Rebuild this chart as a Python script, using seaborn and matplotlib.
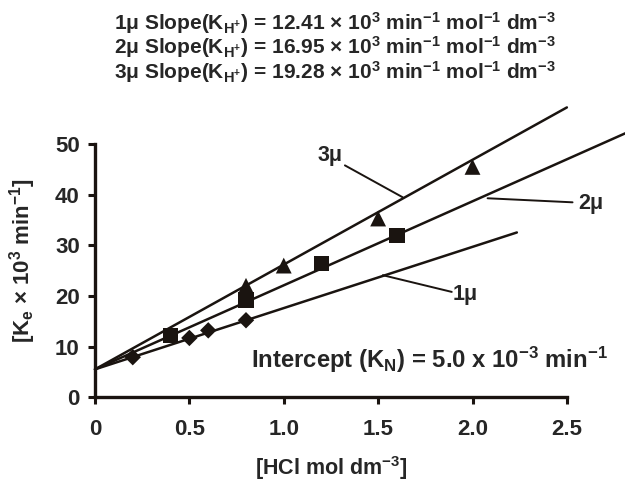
import matplotlib
matplotlib.use("Agg")
import matplotlib.pyplot as plt
import seaborn as sns
import numpy as np
import pandas as pd

# ---- data ----
x_1mu = [0.2, 0.5, 0.6, 0.8]
y_1mu = [7.9, 11.7, 13.2, 15.2]
x_2mu = [0.4, 0.8, 1.2, 1.6]
y_2mu = [12.2, 19.2, 26.4, 32.0]
x_3mu = [0.8, 1.0, 1.5, 2.0]
y_3mu = [22.0, 26.0, 35.3, 45.5]

series = ["1μ", "2μ", "3μ"]
fit_intercept = 5.5
fit_slopes = [12.1, 16.6, 20.7]
fit_xend = [2.235, 2.81, 2.5]

slope_texts = ["1μ Slope(K$_{H^{+}}$) = 12.41 × 10$^{3}$ min$^{-1}$ mol$^{-1}$ dm$^{-3}$",
               "2μ Slope(K$_{H^{+}}$) = 16.95 × 10$^{3}$ min$^{-1}$ mol$^{-1}$ dm$^{-3}$",
               "3μ Slope(K$_{H^{+}}$) = 19.28 × 10$^{3}$ min$^{-1}$ mol$^{-1}$ dm$^{-3}$"]

xticks = [0, 0.5, 1.0, 1.5, 2.0, 2.5]
xtick_labels = ["0", "0.5", "1.0", "1.5", "2.0", "2.5"]
yticks = [0, 10, 20, 30, 40, 50]

sns.set_style("ticks")
plt.rcParams["font.family"] = ["Liberation Sans", "DejaVu Sans"]
plt.rcParams["font.weight"] = "bold"
plt.rcParams["mathtext.default"] = "regular"

INK = "#1a1410"

fig = plt.figure(figsize=(6.25, 4.82), dpi=100)
ax = fig.add_axes([0.152, 0.176, 0.755, 0.525])

# fitted lines
for s, m, xe in zip(series, fit_slopes, fit_xend):
    xs = np.array([0.0, xe])
    df = pd.DataFrame({"x": xs, "y": fit_intercept + m * xs})
    sns.lineplot(data=df, x="x", y="y", ax=ax, color=INK, lw=1.8,
                 clip_on=False, zorder=2)

# points
sns.scatterplot(x=x_1mu, y=y_1mu, marker="D", s=70, color=INK,
                edgecolor="none", ax=ax, zorder=3, clip_on=False)
sns.scatterplot(x=x_2mu, y=y_2mu, marker="s", s=120, color=INK,
                edgecolor="none", ax=ax, zorder=3, clip_on=False)
sns.scatterplot(x=x_3mu, y=y_3mu, marker="^", s=130, color=INK,
                edgecolor="none", ax=ax, zorder=3, clip_on=False)

ax.set_xlim(0, 2.5)
ax.set_ylim(0, 50)
ax.set_xticks(xticks)
ax.set_xticklabels(xtick_labels)
ax.set_yticks(yticks)
ax.tick_params(axis="both", labelsize=16, width=2.2, length=5, color=INK,
               pad=11)
ax.tick_params(axis="y", pad=6)
for lbl in ax.get_xticklabels() + ax.get_yticklabels():
    lbl.set_fontweight("bold")
for sp in ["left", "bottom"]:
    ax.spines[sp].set_linewidth(2.4)
    ax.spines[sp].set_color(INK)
sns.despine(ax=ax)

ax.set_xlabel("[HCl mol dm$^{-3}$]", fontsize=15.5, fontweight="bold", labelpad=10)
ax.set_ylabel("[K$_{e}$ × 10$^{3}$ min$^{-1}$]", fontsize=16, fontweight="bold", labelpad=6)
ax.yaxis.set_label_coords(-0.12, 0.54)

# annotation leader lines and labels
ax.plot([1.324, 1.63], [45.8, 39.5], color=INK, lw=1.4, clip_on=False)
ax.text(1.31, 47.8, "3μ", fontsize=15.5, fontweight="bold", ha="right", va="center")
ax.plot([2.08, 2.53], [39.3, 38.5], color=INK, lw=1.4, clip_on=False)
ax.text(2.56, 38.3, "2μ", fontsize=15.5, fontweight="bold", ha="left", va="center")
ax.plot([1.525, 1.89], [24.1, 20.8], color=INK, lw=1.4, clip_on=False)
ax.text(1.896, 20.2, "1μ", fontsize=15.5, fontweight="bold", ha="left", va="center")

ax.text(1.77, 7.3, "Intercept (K$_{N}$) = 5.0 x 10$^{-3}$ min$^{-1}$",
        fontsize=17.2, fontweight="bold", ha="center", va="center")

fig.text(0.536, 0.902, "\n".join(slope_texts), fontsize=15, fontweight="bold",
         ha="center", va="center", multialignment="center", linespacing=0.93)

fig.savefig("out.png", dpi=100)
